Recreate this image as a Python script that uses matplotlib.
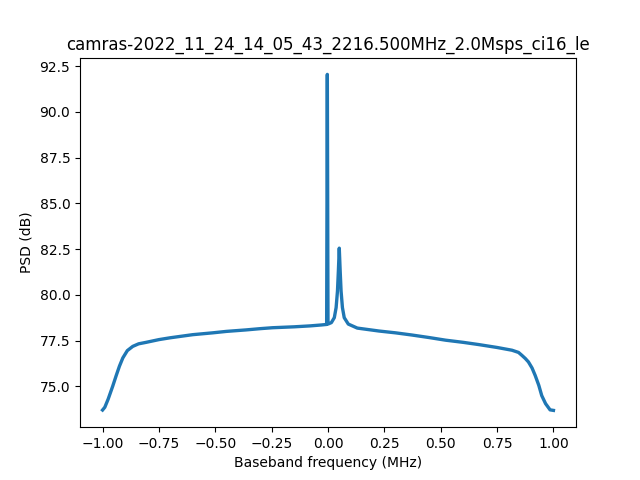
import matplotlib
matplotlib.use("Agg")
import matplotlib.pyplot as plt
import numpy as np

title = "camras-2022_11_24_14_05_43_2216.500MHz_2.0Msps_ci16_le"

# baseband frequency (MHz) and PSD (dB)
freq_mhz = [
    -1.000, -0.990, -0.975, -0.955, -0.939, -0.925, -0.910, -0.890,
    -0.866, -0.840, -0.807, -0.750, -0.700, -0.659, -0.600, -0.512,
    -0.450, -0.364, -0.300, -0.246, -0.150, -0.080, -0.030, -0.006,
    -0.003, 0.000, 0.015, 0.028, 0.036, 0.042, 0.046, 0.050,
    0.054, 0.058, 0.064, 0.072, 0.090, 0.130, 0.226, 0.300,
    0.373, 0.450, 0.521, 0.600, 0.668, 0.750, 0.816, 0.845,
    0.860, 0.875, 0.889, 0.905, 0.919, 0.935, 0.948, 0.965,
    0.985, 1.000,
]
psd_db = [
    73.70, 73.85, 74.30, 75.00, 75.60, 76.10, 76.55, 76.95,
    77.18, 77.32, 77.40, 77.55, 77.65, 77.72, 77.82, 77.92,
    78.00, 78.08, 78.15, 78.20, 78.25, 78.30, 78.35, 78.38,
    92.05, 78.40, 78.48, 78.75, 79.30, 80.20, 81.30, 82.55,
    81.30, 80.20, 79.30, 78.75, 78.40, 78.18, 78.02, 77.92,
    77.80, 77.66, 77.52, 77.40, 77.28, 77.12, 76.97, 76.85,
    76.69, 76.52, 76.33, 76.00, 75.59, 75.05, 74.49, 74.05,
    73.71, 73.68,
]

fig, ax = plt.subplots(figsize=(6.4, 4.8), dpi=100)
ax.plot(freq_mhz, psd_db, color="#1f77b4", linewidth=2.4)
ax.set_xticks(np.arange(-1.0, 1.01, 0.25))
ax.set_xlabel("Baseband frequency (MHz)")
ax.set_ylabel("PSD (dB)")
ax.set_title(title)

fig.savefig("out.png", dpi=100)
